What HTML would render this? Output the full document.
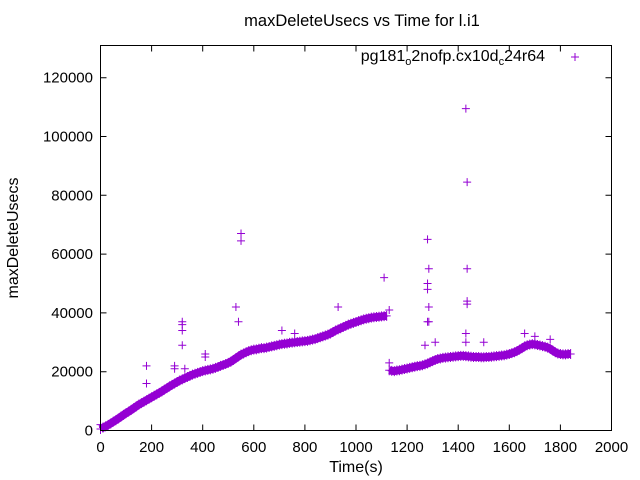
<!DOCTYPE html>
<html><head><meta charset="utf-8"><style>
body{margin:0;background:#fff}
svg{display:block}
text{font-family:"Liberation Sans",sans-serif;font-size:14px;fill:#000}
.big{font-size:16px}
</style></head><body>
<svg id="chart" width="640" height="480" xmlns="http://www.w3.org/2000/svg">
<text class="big" x="362" y="26" text-anchor="middle" style="font-size:16.5px">maxDeleteUsecs vs Time for l.i1</text>
<text class="big" transform="translate(18,238) rotate(-90)" text-anchor="middle">maxDeleteUsecs</text>
<text class="big" x="356" y="472" text-anchor="middle">Time(s)</text>
<g id="ticks"></g>
<g id="marks"></g>
<rect x="100.5" y="45.5" width="511" height="385" fill="none" stroke="#000" stroke-width="1"/>
<g>
<text class="big" x="545" y="61" text-anchor="end">pg181<tspan font-size="11" dy="4">o</tspan><tspan dy="-4">2nofp.cx10d</tspan><tspan font-size="11" dy="4">c</tspan><tspan dy="-4">24r64</tspan></text>
<path d="M571,57h8M575,53v8" stroke="#9400d3" stroke-width="1"/>
</g>
</svg>
<script>
const xTicks=[0,200,400,600,800,1000,1200,1400,1600,1800,2000];
const yTicks=[0,20000,40000,60000,80000,100000,120000];
const seg1Start=0;
const seg1Vals=[0.5,1,1.4,1.9,2.4,3,3.5,4.1,4.7,5.3,5.9,
6.4,7,7.6,8.2,8.8,9.3,9.8,10.3,10.8,11.3,
11.8,12.3,12.8,13.3,13.9,14.4,15,15.5,16,16.5,
17,17.4,17.8,18.2,18.6,19,19.3,19.6,19.9,20.2,
20.4,20.6,20.8,21,21.3,21.6,22,22.3,22.6,23,
23.4,24,24.6,25.2,25.8,26.2,26.6,27,27.3,27.5,
27.6,27.8,28,28,28.2,28.4,28.6,28.8,29,29.2,
29.4,29.5,29.6,29.8,29.9,30,30.1,30.2,30.3,30.4,
30.5,30.7,30.9,31.1,31.4,31.7,32,32.3,32.6,33,
33.5,34,34.4,34.8,35.2,35.6,36,36.3,36.6,36.9,
37.2,37.5,37.8,38,38.2,38.4,38.5,38.6,38.7,38.8,38.9,39];
const seg2Start=1130;
const seg2Vals=[20.5,20.3,20.2,20.4,20.5,20.7,20.9,21.1,
21.3,21.5,21.7,21.9,22,22.2,22.5,22.8,23.2,23.6,
24,24.3,24.5,24.7,24.8,24.9,25,25.1,25.2,25.3,
25.4,25.4,25.3,25.2,25.1,25,25,25,24.9,24.9,
25,25,25.1,25.2,25.3,25.4,25.5,25.6,25.8,26,
26.3,26.6,27,27.5,28,28.6,29,29.2,29.4,29.3,
29.1,28.9,28.7,28.5,28.2,27.8,27.2,26.6,26.2,26,
25.9,25.9,26,26];
const outTimes=[0,180,180,290,290,320,320,320,320,330,410,410,530,540,550,550,710,760,930,1110,1130,1130,1280,1285,1280,1280,1285,1280,1285,1270,1310,1430,1435,1435,1435,1435,1430,1430,1500,1660,1700,1760];
const outVals=[2000,22000,16000,22000,21000,37000,36000,34000,29000,21000,26000,25000,42000,37000,67000,64500,34000,33000,42000,52000,41000,23000,65000,55000,50000,48000,42000,37000,37000,29000,30000,109500,84500,55000,44000,43000,33000,30000,30000,33000,32000,31000];
const NS="http://www.w3.org/2000/svg";
const X=v=>100.5+v/2000*511;
const Y=v=>430.5-v/20000*58.8;
const tg=document.getElementById('ticks'),mg=document.getElementById('marks');
function mk(p,tag,at){const e=document.createElementNS(NS,tag);for(const k in at)e.setAttribute(k,at[k]);p.appendChild(e);return e;}
xTicks.forEach(t=>{
 const l=mk(tg,'path',{d:`M${X(t)},430.5v-6M${X(t)},45.5v6`,stroke:'#000'});
 
 
 const tx=mk(tg,'text',{x:X(t),y:452,'text-anchor':'middle',style:'font-size:15px'});tx.textContent=t;
 
 
});
yTicks.forEach(t=>{
 const l=mk(tg,'path',{d:`M100.5,${Y(t)}h6M611.5,${Y(t)}h-6`,stroke:'#000'});
 
 
 const tx=mk(tg,'text',{x:93,y:Y(t)+5,'text-anchor':'end',style:'font-size:15px'});tx.textContent=t;
 
 
});
function band(start,vals){
 const pts=vals.map((v,i)=>X(start+i*10)+','+Y(v*1000)).join(' ');
 const pl=mk(mg,'polyline',{points:pts,fill:'none',stroke:'#9400d3','stroke-width':8,'stroke-linejoin':'round'});
 
 
 vals.forEach((v,i)=>{
  const x=X(start+i*10),y=Y(v*1000);
  const p=mk(mg,'path',{d:`M${x-4},${y}h8M${x},${y-5}v10`,stroke:'#9400d3'});
  
  
 });
}
band(seg1Start,seg1Vals);
band(seg2Start,seg2Vals);
outTimes.forEach((t,i)=>{
 const x=X(t),y=Y(outVals[i]);
 const p=mk(mg,'path',{d:`M${x-4},${y}h8M${x},${y-4}v8`,stroke:'#9400d3'});
 
 
});
</script>
</body></html>
